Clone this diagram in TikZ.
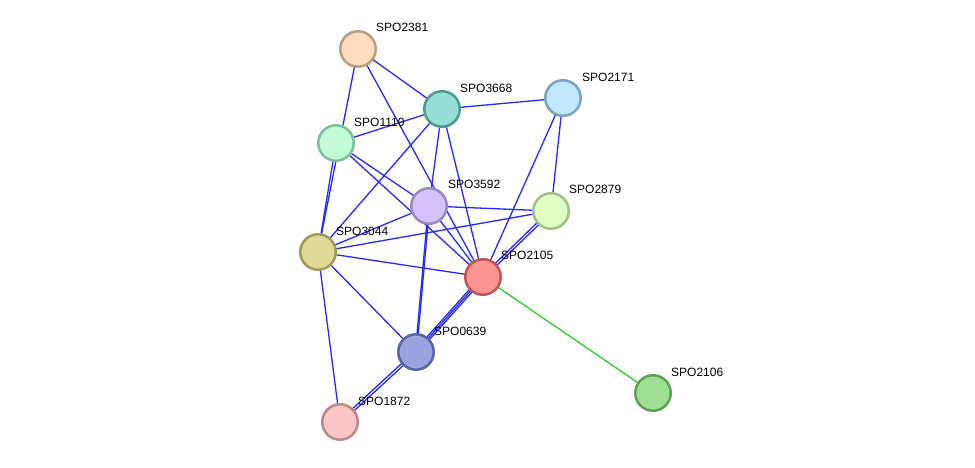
\documentclass[tikz,border=0pt]{standalone}
\usepackage{fontspec}
\setmainfont{Liberation Sans}
\usetikzlibrary{backgrounds}
\definecolor{eblue}{RGB}{40,40,250}
\definecolor{egreen}{RGB}{50,200,50}
\definecolor{f2381}{RGB}{253,220,191}\definecolor{b2381}{RGB}{187,158,128}
\definecolor{f3668}{RGB}{151,223,214}\definecolor{b3668}{RGB}{77,154,142}
\definecolor{f2171}{RGB}{194,231,253}\definecolor{b2171}{RGB}{122,163,192}
\definecolor{f1110}{RGB}{193,251,218}\definecolor{b1110}{RGB}{127,192,154}
\definecolor{f3592}{RGB}{212,195,251}\definecolor{b3592}{RGB}{154,136,193}
\definecolor{f2879}{RGB}{225,254,198}\definecolor{b2879}{RGB}{163,191,134}
\definecolor{f3044}{RGB}{221,218,151}\definecolor{b3044}{RGB}{159,156,90}
\definecolor{f2105}{RGB}{251,149,149}\definecolor{b2105}{RGB}{191,86,86}
\definecolor{f0639}{RGB}{153,163,223}\definecolor{b0639}{RGB}{90,101,160}
\definecolor{f2106}{RGB}{158,223,147}\definecolor{b2106}{RGB}{94,160,85}
\definecolor{f1872}{RGB}{248,198,198}\definecolor{b1872}{RGB}{188,137,137}
\begin{document}
\begin{tikzpicture}[x=1pt,y=-1pt,
  prot/.style={circle, line width=2.5pt, minimum size=35.5pt, inner sep=0pt},
  lab/.style={anchor=west, inner sep=0pt, font=\fontsize{12}{14}\selectfont},
  edge/.style={draw=eblue, line width=1.3pt},
  gedge/.style={draw=egreen, line width=1.3pt}]
\useasboundingbox (0,0) rectangle (975,468);
\node[prot, fill=f2381, draw=b2381] (n2381) at (358,49) {};
\node[prot, fill=f3668, draw=b3668] (n3668) at (442,109) {};
\node[prot, fill=f2171, draw=b2171] (n2171) at (563,98) {};
\node[prot, fill=f1110, draw=b1110] (n1110) at (336,143) {};
\node[prot, fill=f3592, draw=b3592] (n3592) at (429,206) {};
\node[prot, fill=f2879, draw=b2879] (n2879) at (551,211) {};
\node[prot, fill=f3044, draw=b3044] (n3044) at (318,252) {};
\node[prot, fill=f2105, draw=b2105] (n2105) at (483,277) {};
\node[prot, fill=f0639, draw=b0639] (n0639) at (416,352) {};
\node[prot, fill=f2106, draw=b2106] (n2106) at (653,393) {};
\node[prot, fill=f1872, draw=b1872] (n1872) at (340,422) {};
\node[lab] (l2381) at (376,27) {SPO2381};
\node[lab] (l3668) at (460,88) {SPO3668};
\node[lab] (l2171) at (582,77) {SPO2171};
\node[lab] (l1110) at (354,122) {SPO1110};
\node[lab] (l3592) at (448,184) {SPO3592};
\node[lab] (l2879) at (569,189) {SPO2879};
\node[lab] (l3044) at (336,231) {SPO3044};
\node[lab] (l2105) at (501,255) {SPO2105};
\node[lab] (l0639) at (434,331) {SPO0639};
\node[lab] (l2106) at (671,372) {SPO2106};
\node[lab] (l1872) at (358,401) {SPO1872};
\begin{pgfonlayer}{background}
\draw[edge] (n2381.center) -- (n3668.center);
\draw[edge] (n2381.center) -- (n3044.center);
\draw[edge] (n2381.center) -- (n2105.center);
\draw[edge] (n3668.center) -- (n1110.center);
\draw[edge] (n3668.center) -- (n2171.center);
\draw[edge] (n3668.center) -- (n3044.center);
\draw[edge] (n3668.center) -- (n3592.center);
\draw[edge] (n3668.center) -- (n2105.center);
\draw[edge] (n2171.center) -- (n2879.center);
\draw[edge] (n2171.center) -- (n2105.center);
\draw[edge] (n1110.center) -- (n3592.center);
\draw[edge] (n1110.center) -- (n2105.center);
\draw[edge] (n1110.center) -- (n3044.center);
\draw[edge] (n3592.center) -- (n2879.center);
\draw[edge] (n3592.center) -- (n3044.center);
\draw[edge] (n3592.center) -- (n2105.center);
\draw[edge, transform canvas={shift={(0.6pt,0pt)}}] (n3592.center) -- (n0639.center);
\draw[edge, transform canvas={shift={(-0.6pt,0pt)}}] (n3592.center) -- (n0639.center);
\draw[edge] (n2879.center) -- (n3044.center);
\draw[edge, transform canvas={shift={(0.85pt,-0.9pt)}}] (n2879.center) -- (n2105.center);
\draw[edge, transform canvas={shift={(-0.85pt,0.9pt)}}] (n2879.center) -- (n2105.center);
\draw[edge] (n3044.center) -- (n2105.center);
\draw[edge] (n3044.center) -- (n0639.center);
\draw[edge] (n3044.center) -- (n1872.center);
\draw[edge, transform canvas={shift={(1.35pt,-1.2pt)}}] (n2105.center) -- (n0639.center);
\draw[edge] (n2105.center) -- (n0639.center);
\draw[edge, transform canvas={shift={(-1.35pt,1.2pt)}}] (n2105.center) -- (n0639.center);
\draw[edge, transform canvas={shift={(0.85pt,-0.95pt)}}] (n0639.center) -- (n1872.center);
\draw[edge, transform canvas={shift={(-0.85pt,0.95pt)}}] (n0639.center) -- (n1872.center);
\draw[gedge] (n2105.center) -- (n2106.center);
\end{pgfonlayer}
\end{tikzpicture}
\end{document}
